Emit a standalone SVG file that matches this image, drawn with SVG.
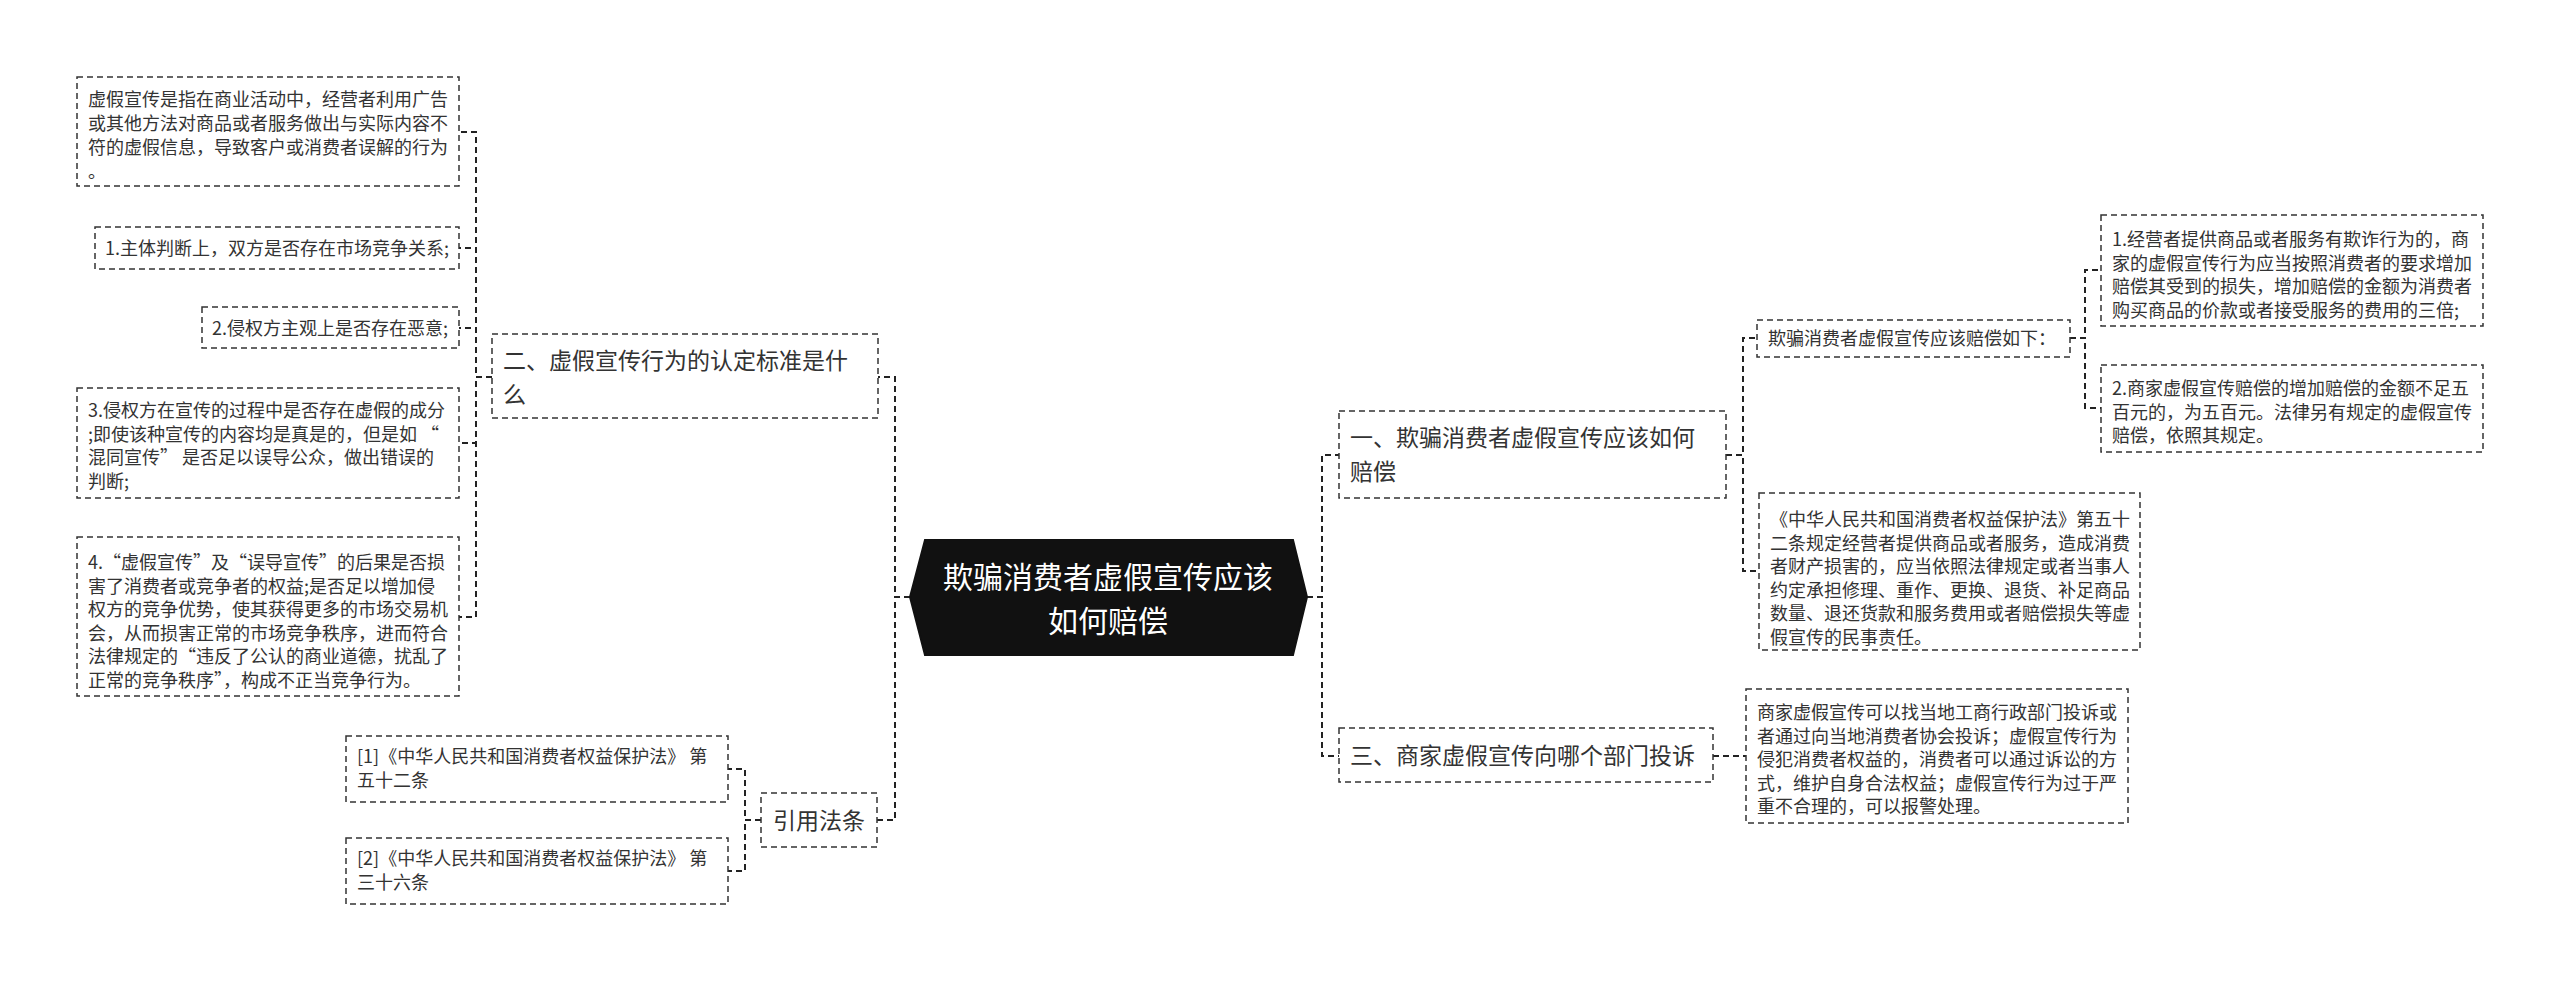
<svg xmlns="http://www.w3.org/2000/svg" width="2560" height="982" viewBox="0 0 2560 982">
<style>
text{font-family:"Noto Sans CJK SC","Microsoft YaHei",sans-serif;fill:#333}
.leaf{font-size:18px}
.mid{font-size:23px}
.box{fill:#fff;stroke:#333;stroke-width:1.5;stroke-dasharray:6 4}
.con{fill:none;stroke:#222;stroke-width:2;stroke-dasharray:6 4}
.root{font-size:30px;fill:#fff;text-anchor:middle}
</style>
<rect width="2560" height="982" fill="#fff"/>
<g id="connectors">
<path class="con" d="M910 597 H895 V377 H878"/>
<path class="con" d="M910 597 H895 V820 H877"/>
<path class="con" d="M1307 597 H1322 V455 H1339"/>
<path class="con" d="M1307 597 H1322 V756 H1339"/>
<path class="con" d="M492 377 H476 V132 H459"/>
<path class="con" d="M492 377 H476 V248 H459"/>
<path class="con" d="M492 377 H476 V328 H459"/>
<path class="con" d="M492 377 H476 V443 H459"/>
<path class="con" d="M492 377 H476 V617 H459"/>
<path class="con" d="M761 820 H745 V769 H728"/>
<path class="con" d="M761 820 H745 V871 H728"/>
<path class="con" d="M1726 455 H1743 V338 H1757"/>
<path class="con" d="M1726 455 H1743 V571 H1759"/>
<path class="con" d="M2070 338 H2085 V270 H2101"/>
<path class="con" d="M2070 338 H2085 V408 H2101"/>
<path class="con" d="M1713 756 H1746"/>
</g>
<g id="root">
<polygon points="910,597 925,540 1293,540 1307,597 1293,655 925,655" fill="#111" stroke="#111" stroke-width="2"/>
<text class="root"><tspan x="1108" y="588">欺骗消费者虚假宣传应该</tspan><tspan x="1108" y="632">如何赔偿</tspan></text>
</g>
<g id="n2">
<rect class="box" x="492" y="334" width="386" height="84"/>
<text class="mid" x="503" y="369">二、虚假宣传行为的认定标准是什</text>
<text class="mid" x="503" y="403">么</text>
</g>
<g id="n2-def">
<rect class="box" x="77" y="77" width="382" height="109"/>
<text class="leaf" x="88" y="106">虚假宣传是指在商业活动中，经营者利用广告</text>
<text class="leaf" x="88" y="130">或其他方法对商品或者服务做出与实际内容不</text>
<text class="leaf" x="88" y="154">符的虚假信息，导致客户或消费者误解的行为</text>
<text class="leaf" x="88" y="178">。</text>
</g>
<g id="n2-1">
<rect class="box" x="95" y="227" width="364" height="42"/>
<text class="leaf" x="105" y="255">1.主体判断上，双方是否存在市场竞争关系;</text>
</g>
<g id="n2-2">
<rect class="box" x="202" y="307" width="257" height="41"/>
<text class="leaf" x="212" y="335">2.侵权方主观上是否存在恶意;</text>
</g>
<g id="n2-3">
<rect class="box" x="77" y="388" width="382" height="110"/>
<text class="leaf" x="88" y="417">3.侵权方在宣传的过程中是否存在虚假的成分</text>
<text class="leaf" x="88" y="440.5">;即使该种宣传的内容均是真是的，但是如 “</text>
<text class="leaf" x="88" y="464">混同宣传” 是否足以误导公众，做出错误的</text>
<text class="leaf" x="88" y="487.5">判断;</text>
</g>
<g id="n2-4">
<rect class="box" x="77" y="537" width="382" height="159"/>
<text class="leaf" x="88" y="569">4.“虚假宣传”及“误导宣传”的后果是否损</text>
<text class="leaf" x="88" y="592.5">害了消费者或竞争者的权益;是否足以增加侵</text>
<text class="leaf" x="88" y="616">权方的竞争优势，使其获得更多的市场交易机</text>
<text class="leaf" x="88" y="639.5">会，从而损害正常的市场竞争秩序，进而符合</text>
<text class="leaf" x="88" y="663">法律规定的“违反了公认的商业道德，扰乱了</text>
<text class="leaf" x="88" y="686.5">正常的竞争秩序”，构成不正当竞争行为。</text>
</g>
<g id="law">
<rect class="box" x="761" y="793" width="116" height="54"/>
<text class="mid" x="819" y="829" text-anchor="middle">引用法条</text>
</g>
<g id="law-1">
<rect class="box" x="346" y="736" width="382" height="66"/>
<text class="leaf" x="357" y="763">[1]《中华人民共和国消费者权益保护法》 第</text>
<text class="leaf" x="357" y="787">五十二条</text>
</g>
<g id="law-2">
<rect class="box" x="346" y="838" width="382" height="66"/>
<text class="leaf" x="357" y="865">[2]《中华人民共和国消费者权益保护法》 第</text>
<text class="leaf" x="357" y="889">三十六条</text>
</g>
<g id="n1">
<rect class="box" x="1339" y="411" width="387" height="87"/>
<text class="mid" x="1350" y="446">一、欺骗消费者虚假宣传应该如何</text>
<text class="mid" x="1350" y="480">赔偿</text>
</g>
<g id="n1-a">
<rect class="box" x="1757" y="320" width="313" height="37"/>
<text class="leaf" x="1768" y="345">欺骗消费者虚假宣传应该赔偿如下：</text>
</g>
<g id="n1-a1">
<rect class="box" x="2101" y="215" width="382" height="111"/>
<text class="leaf" x="2112" y="246">1.经营者提供商品或者服务有欺诈行为的，商</text>
<text class="leaf" x="2112" y="269.5">家的虚假宣传行为应当按照消费者的要求增加</text>
<text class="leaf" x="2112" y="293">赔偿其受到的损失，增加赔偿的金额为消费者</text>
<text class="leaf" x="2112" y="316.5">购买商品的价款或者接受服务的费用的三倍;</text>
</g>
<g id="n1-a2">
<rect class="box" x="2101" y="365" width="382" height="87"/>
<text class="leaf" x="2112" y="395">2.商家虚假宣传赔偿的增加赔偿的金额不足五</text>
<text class="leaf" x="2112" y="418.5">百元的，为五百元。法律另有规定的虚假宣传</text>
<text class="leaf" x="2112" y="442">赔偿，依照其规定。</text>
</g>
<g id="n1-b">
<rect class="box" x="1759" y="493" width="381" height="157"/>
<text class="leaf" x="1770" y="526">《中华人民共和国消费者权益保护法》第五十</text>
<text class="leaf" x="1770" y="549.5">二条规定经营者提供商品或者服务，造成消费</text>
<text class="leaf" x="1770" y="573">者财产损害的，应当依照法律规定或者当事人</text>
<text class="leaf" x="1770" y="596.5">约定承担修理、重作、更换、退货、补足商品</text>
<text class="leaf" x="1770" y="620">数量、退还货款和服务费用或者赔偿损失等虚</text>
<text class="leaf" x="1770" y="643.5">假宣传的民事责任。</text>
</g>
<g id="n3">
<rect class="box" x="1339" y="728" width="374" height="54"/>
<text class="mid" x="1350" y="764">三、商家虚假宣传向哪个部门投诉</text>
</g>
<g id="n3-a">
<rect class="box" x="1746" y="689" width="382" height="134"/>
<text class="leaf" x="1757" y="719">商家虚假宣传可以找当地工商行政部门投诉或</text>
<text class="leaf" x="1757" y="742.5">者通过向当地消费者协会投诉；虚假宣传行为</text>
<text class="leaf" x="1757" y="766">侵犯消费者权益的，消费者可以通过诉讼的方</text>
<text class="leaf" x="1757" y="789.5">式，维护自身合法权益；虚假宣传行为过于严</text>
<text class="leaf" x="1757" y="813">重不合理的，可以报警处理。</text>
</g>
</svg>
